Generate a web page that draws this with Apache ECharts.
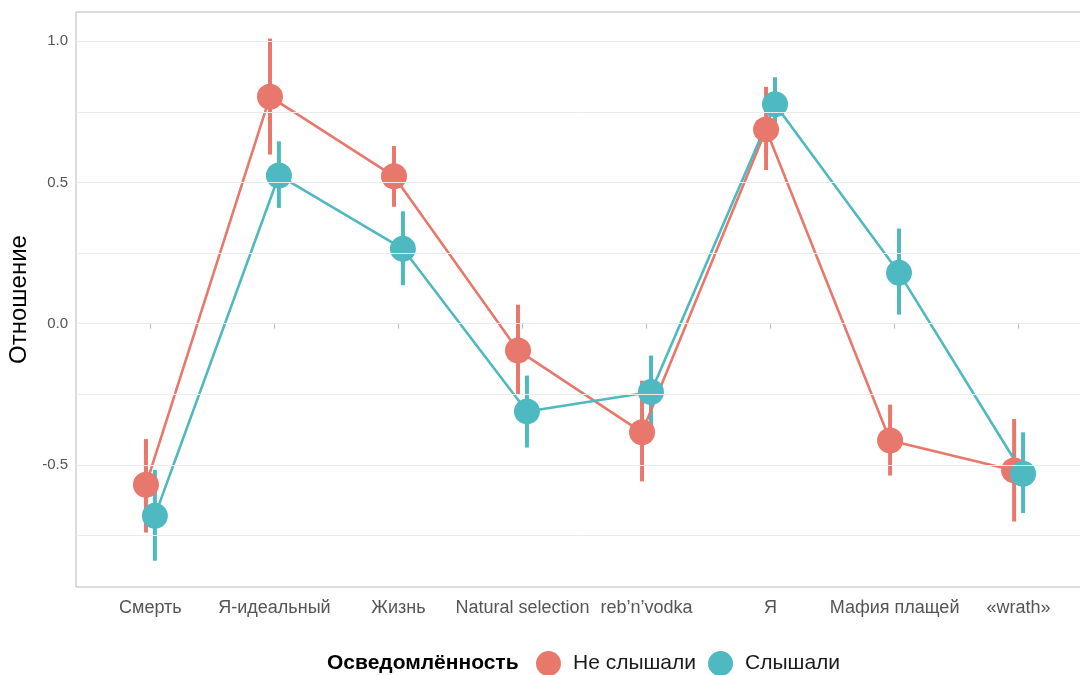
<!DOCTYPE html>
<html>
<head>
<meta charset="utf-8">
<script src="https://cdn.jsdelivr.net/npm/echarts@6/dist/echarts.min.js"></script>
<style>html,body{margin:0;padding:0;background:#fff}#c{width:1080px;height:675px}</style>
</head>
<body>
<div id="c"></div>
<script>
// ---- data ----
var categories = ['Смерть', 'Я-идеальный', 'Жизнь', 'Natural selection', 'reb\u2019n\u2019vodka', 'Я', 'Мафия плащей', '«wrath»'];
var seriesNames = ['Не слышали', 'Слышали'];
var notHeardMean = [-0.571, 0.804, 0.522, -0.095, -0.385, 0.688, -0.414, -0.520];
var notHeardLow  = [-0.740, 0.599, 0.414, -0.252, -0.559, 0.544, -0.538, -0.701];
var notHeardHigh = [-0.409, 1.010, 0.629, 0.067, -0.202, 0.839, -0.287, -0.338];
var heardMean = [-0.681, 0.525, 0.265, -0.311, -0.242, 0.777, 0.180, -0.532];
var heardLow  = [-0.840, 0.410, 0.136, -0.439, -0.370, 0.680, 0.032, -0.671];
var heardHigh = [-0.518, 0.646, 0.398, -0.184, -0.113, 0.873, 0.337, -0.385];
var yTicks = [-0.5, 0.0, 0.5, 1.0];
var yMinorTicks = [-0.75, -0.25, 0.25, 0.75];

// ---- style ----
var RED = '#E8776C', TEAL = '#4FB9C1';
var DODGE = 0.036;
var FONT = 'Liberation Sans, Arial, sans-serif';
var catIdx = categories.map(function (c, i) { return i; });

function pts(mean, off) { return mean.map(function (v, i) { return [i + off, v]; }); }
function bars(lo, hi, off) { return lo.map(function (v, i) { return [i + off, v, hi[i]]; }); }

function errSeries(name, lo, hi, off, color) {
  return {
    type: 'custom', name: name + ' CI', silent: true,
    data: bars(lo, hi, off),
    encode: { x: 0, y: [1, 2] },
    renderItem: function (params, api) {
      var a = api.coord([api.value(0), api.value(1)]);
      var b = api.coord([api.value(0), api.value(2)]);
      return { type: 'line', shape: { x1: a[0], y1: a[1], x2: b[0], y2: b[1] },
        style: { stroke: color, lineWidth: 4 } };
    }
  };
}
function lineSeries(name, mean, off, color) {
  return {
    type: 'line', name: name, data: pts(mean, off),
    symbol: 'circle', symbolSize: 26, showSymbol: true,
    itemStyle: { color: color }, lineStyle: { color: color, width: 2.6 },
    emphasis: { disabled: true }, animation: false
  };
}
var gridLines = yTicks.concat(yMinorTicks).map(function (v) { return { yAxis: v }; });

var chart = echarts.init(document.getElementById('c'));
chart.setOption({
  animation: false,
  backgroundColor: '#fff',
  grid: { left: 76, top: 12, width: 1017, height: 575, outerBoundsMode: 'none', containLabel: false,
    show: true, borderColor: '#B8B8B8', borderWidth: 1, backgroundColor: 'transparent' },
  xAxis: {
    type: 'value', min: -0.6, max: 7.6,
    axisLine: { show: false }, splitLine: { show: false },
    axisTick: { show: true, customValues: catIdx, length: 5, lineStyle: { color: '#B8B8B8' } },
    axisLabel: { customValues: catIdx, formatter: function (v) { return categories[Math.round(v)]; },
      color: '#555555', fontSize: 18, fontFamily: FONT, margin: 12 }
  },
  yAxis: {
    type: 'value', min: -0.933, max: 1.104,
    name: 'Отношение', nameLocation: 'middle', nameGap: 42, nameRotate: 90,
    nameTextStyle: { color: '#000', fontSize: 24, fontFamily: FONT },
    axisLine: { show: false }, splitLine: { show: false },
    axisTick: { show: true, customValues: yTicks, length: 5, lineStyle: { color: '#B8B8B8' } },
    axisLabel: { customValues: yTicks, formatter: function (v) { return v.toFixed(1); },
      color: '#555555', fontSize: 15, fontFamily: FONT, margin: 8 }
  },
  legend: {
    data: seriesNames, left: 536, top: 651, padding: 0, icon: 'circle', itemWidth: 25, itemHeight: 25, itemGap: 12,
    textStyle: { color: '#1A1A1A', fontSize: 21, fontFamily: FONT, padding: [0, 0, 0, 7] },
    selectedMode: false
  },
  graphic: [{
    type: 'text', left: 327, top: 653,
    style: { text: 'Осведомлённость', font: 'bold 21px ' + FONT, fill: '#000' }
  }],
  series: [
    { type: 'line', data: [], silent: true,
      markLine: { silent: true, symbol: 'none', label: { show: false },
        lineStyle: { color: '#EBEBEB', width: 1, type: 'solid' }, data: gridLines }, z: 0 },
    errSeries(seriesNames[0], notHeardLow, notHeardHigh, -DODGE, RED),
    lineSeries(seriesNames[0], notHeardMean, -DODGE, RED),
    errSeries(seriesNames[1], heardLow, heardHigh, DODGE, TEAL),
    lineSeries(seriesNames[1], heardMean, DODGE, TEAL)
  ]
});
</script>
</body>
</html>
